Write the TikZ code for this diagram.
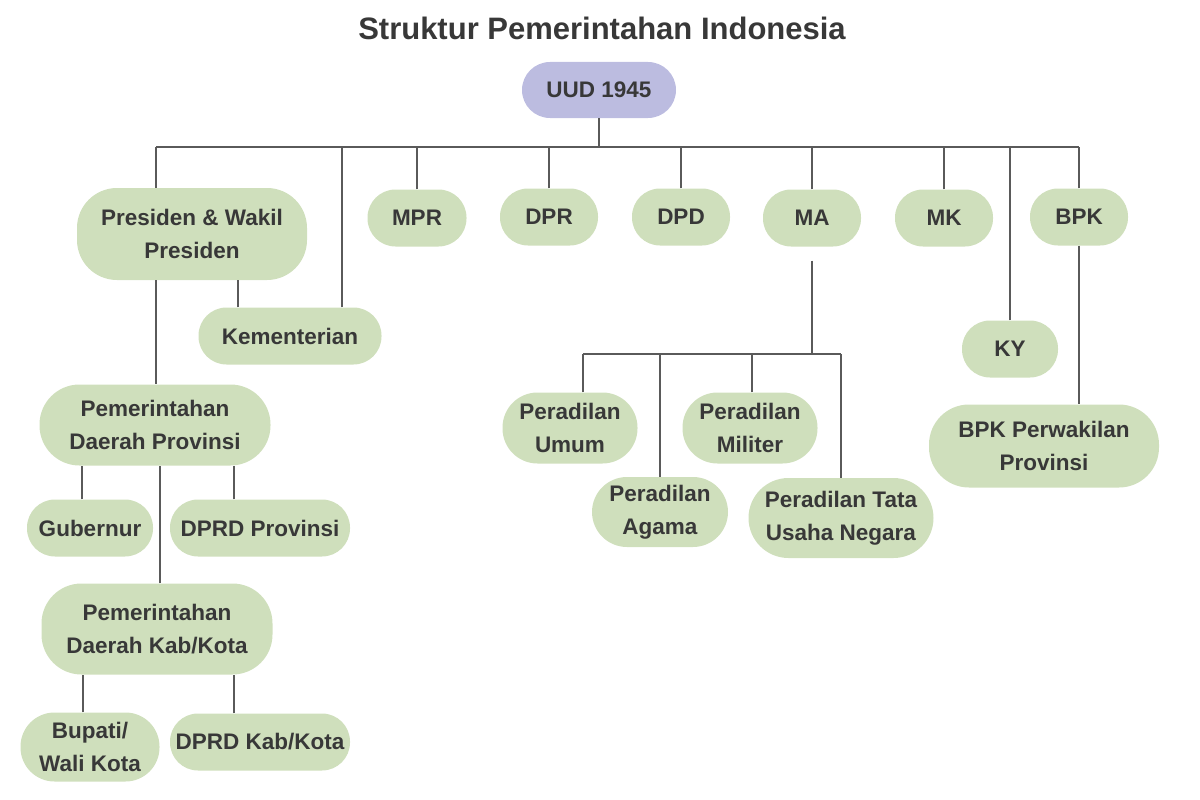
\documentclass[tikz,border=0pt]{standalone}
\usepackage{fontspec}
\setmainfont{Liberation Sans}
\usetikzlibrary{calc}
\definecolor{boxgreen}{HTML}{CFDFBC}
\definecolor{boxlav}{HTML}{BCBCE0}
\definecolor{txt}{HTML}{383838}
\definecolor{ln}{HTML}{5A5A5A}
\begin{document}
\begin{tikzpicture}[x=1pt,y=-1pt,
  box/.style={fill=boxgreen, draw=none, rounded corners=28pt, inner sep=0pt,
    align=center, text=txt, font=\bfseries\fontsize{22.5}{33.5}\selectfont},
  tall/.style={rounded corners=40pt},
  conn/.style={draw=ln, line width=1.3pt}]
\useasboundingbox (0,0) rectangle (1200,800);
\node[text=txt, font=\bfseries\fontsize{31}{36}\selectfont] (title) at (602,28) {Struktur Pemerintahan Indonesia};
\node[box, fill=boxlav, minimum width=154pt, minimum height=56pt] (uud) at (599,90) {UUD 1945};
% top row
\node[box, tall, minimum width=230pt, minimum height=92pt] (pres) at (192,234) {Presiden \& Wakil\\Presiden};
\node[box, minimum width=99pt, minimum height=57pt] (mpr) at (417,218) {MPR};
\node[box, minimum width=98pt, minimum height=57pt] (dpr) at (549,217) {DPR};
\node[box, minimum width=98pt, minimum height=57pt] (dpd) at (681,217) {DPD};
\node[box, minimum width=98pt, minimum height=57pt] (ma) at (812,218) {MA};
\node[box, minimum width=98pt, minimum height=57pt] (mk) at (944,218) {MK};
\node[box, minimum width=98pt, minimum height=57pt] (bpk) at (1079,217) {BPK};
% executive branch
\node[box, minimum width=183pt, minimum height=57pt] (kem) at (290,336) {Kementerian};
\node[box, tall, minimum width=231pt, minimum height=81pt] (pdp) at (155,425) {Pemerintahan\\Daerah Provinsi};
\node[box, minimum width=126pt, minimum height=57pt] (gub) at (90,528) {Gubernur};
\node[box, minimum width=180pt, minimum height=57pt] (dprdp) at (260,528) {DPRD Provinsi};
\node[box, tall, minimum width=231pt, minimum height=91pt] (pdk) at (157,629) {Pemerintahan\\Daerah Kab/Kota};
\node[box, tall, rounded corners=34pt, minimum width=139pt, minimum height=69pt] (bup) at (90,747) {Bupati/\\Wali Kota};
\node[box, minimum width=180pt, minimum height=57pt] (dprdk) at (260,742) {DPRD Kab/Kota};
% judiciary
\node[box, tall, rounded corners=35pt, minimum width=135pt, minimum height=71pt] (umum) at (570,428) {Peradilan\\Umum};
\node[box, tall, rounded corners=35pt, minimum width=135pt, minimum height=71pt] (mil) at (750,428) {Peradilan\\Militer};
\node[box, tall, rounded corners=35pt, minimum width=136pt, minimum height=70pt] (aga) at (660,512) {Peradilan\\Agama};
\node[box, tall, rounded corners=40pt, minimum width=185pt, minimum height=80pt] (tun) at (841,518) {Peradilan Tata\\Usaha Negara};
% KY, BPK perwakilan
\node[box, minimum width=96pt, minimum height=57pt] (ky) at (1010,349) {KY};
\node[box, tall, rounded corners=40pt, minimum width=230pt, minimum height=83pt] (bpkp) at (1044,446) {BPK Perwakilan\\Provinsi};
% connectors
\coordinate (bus) at (0,147);
\coordinate (pdrop) at (156,0);
\coordinate (kdrop) at (342,0);
\draw[conn] (uud.south) -- (uud.south |- bus);
\draw[conn] (pdrop |- bus) -- (bpk.north |- bus);
\draw[conn] (pdrop |- pres.north) -- (pdrop |- bus);
\draw[conn] (kdrop |- kem.north) -- (kdrop |- bus);
\foreach \n in {mpr,dpr,dpd,ma,mk,bpk,ky} \draw[conn] (\n.north) -- (\n.north |- bus);
\draw[conn] ([xshift=-52pt]kem.north) -- ([xshift=-52pt]kem.north |- pres.south);
\draw[conn] (pdrop |- pres.south) -- (pdrop |- pdp.north);
\draw[conn] ([xshift=-8pt]gub.north) -- ([xshift=-8pt]gub.north |- pdp.south);
\draw[conn] ([xshift=-26pt]dprdp.north) -- ([xshift=-26pt]dprdp.north |- pdp.south);
\draw[conn] ([xshift=3pt]pdk.north) -- ([xshift=3pt]pdk.north |- pdp.south);
\draw[conn] ([xshift=-7pt]bup.north) -- ([xshift=-7pt]bup.north |- pdk.south);
\draw[conn] ([xshift=-26pt]dprdk.north) -- ([xshift=-26pt]dprdk.north |- pdk.south);
\draw[conn] (bpk.south) -- (bpk.south |- bpkp.north);
% MA branch
\coordinate (mabus) at (0,354);
\draw[conn] ($(ma.south)+(0,14)$) -- (ma.south |- mabus);
\draw[conn] ([xshift=13pt]umum.north |- mabus) -- (tun.north |- mabus);
\draw[conn] ([xshift=13pt]umum.north) -- ([xshift=13pt]umum.north |- mabus);
\draw[conn] (aga.north) -- (aga.north |- mabus);
\draw[conn] ([xshift=2pt]mil.north) -- ([xshift=2pt]mil.north |- mabus);
\draw[conn] (tun.north) -- (tun.north |- mabus);
\end{tikzpicture}
\end{document}
